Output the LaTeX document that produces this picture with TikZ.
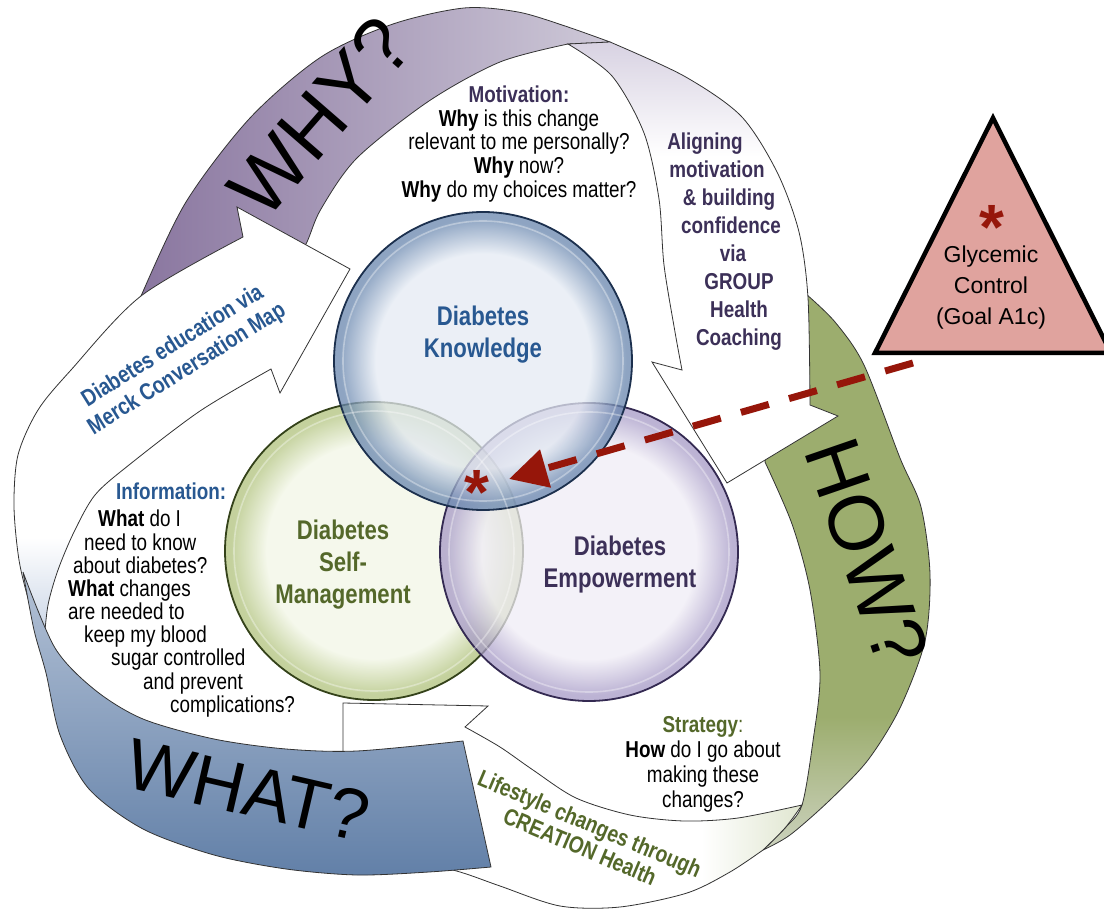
\documentclass[tikz,border=0pt]{standalone}
\usepackage{fontspec}
\setmainfont[FakeStretch=0.82]{Liberation Sans}
\newfontfamily\fullwidth{Liberation Sans}
\usetikzlibrary{arrows.meta}

% text colours
\definecolor{knowtext}{RGB}{40,88,145}
\definecolor{powertext}{RGB}{60,48,88}
\definecolor{selftext}{RGB}{84,104,42}
\definecolor{goalred}{RGB}{150,22,10}
\definecolor{goalfill}{RGB}{224,163,158}
% ribbons
\definecolor{whyL}{RGB}{136,116,158}
\definecolor{whyR}{RGB}{206,201,216}
\definecolor{howT}{RGB}{156,173,110}
\definecolor{howB}{RGB}{204,210,190}
\definecolor{whatT}{RGB}{180,194,214}
\definecolor{whatB}{RGB}{98,128,168}
\definecolor{whytint}{RGB}{216,210,226}
\definecolor{howtint}{RGB}{224,230,208}
\definecolor{whattint}{RGB}{198,210,228}
% bubbles
\definecolor{knowin}{RGB}{228,234,243}
\definecolor{knowrim}{RGB}{104,134,174}
\definecolor{knowedge}{RGB}{28,48,78}
\definecolor{selfin}{RGB}{242,246,230}
\definecolor{selfrim}{RGB}{176,194,124}
\definecolor{selfedge}{RGB}{52,66,26}
\definecolor{powerin}{RGB}{239,236,245}
\definecolor{powerrim}{RGB}{166,154,198}
\definecolor{poweredge}{RGB}{52,42,82}

\pgfdeclareradialshading{knowball}{\pgfpoint{0bp}{0bp}}{color(0bp)=(knowin); color(18bp)=(knowin); color(24bp)=(knowrim); color(50bp)=(knowrim)}
\pgfdeclareradialshading{selfball}{\pgfpoint{0bp}{0bp}}{color(0bp)=(selfin); color(18bp)=(selfin); color(24bp)=(selfrim); color(50bp)=(selfrim)}
\pgfdeclareradialshading{powerball}{\pgfpoint{0bp}{0bp}}{color(0bp)=(powerin); color(18bp)=(powerin); color(24bp)=(powerrim); color(50bp)=(powerrim)}
% coloured HOW? side, paling only at its twisted end
\pgfdeclareverticalshading{howside}{100bp}{color(0bp)=(howB); color(25bp)=(howB); color(37bp)=(howT); color(100bp)=(howT)}
% white faces of the ribbons, tinted towards the twist
\pgfdeclareverticalshading{alignwash}{100bp}{color(0bp)=(white); color(62bp)=(white); color(75bp)=(whytint); color(100bp)=(whytint)}
\pgfdeclarehorizontalshading{lifewash}{100bp}{color(0bp)=(white); color(64bp)=(white); color(75bp)=(howtint); color(100bp)=(howtint)}
\pgfdeclareverticalshading{eduwash}{100bp}{color(0bp)=(whattint); color(25bp)=(whattint); color(37bp)=(white); color(100bp)=(white)}

\tikzset{
  ribbon/.style={draw=black!80, line width=0.8pt},
  face/.style={ribbon, shade},
  bubble/.style={circle, minimum size=298pt, inner sep=0pt, shade, fill opacity=0.75, draw opacity=1, line width=1.8pt},
  gloss/.style={white, line width=1.6pt, opacity=0.35},
  bigword/.style={font=\fullwidth\fontsize{78}{78}\selectfont, inner sep=0pt},
  say/.style={font=\fontsize{23}{23.7}\selectfont, align=center, inner sep=0pt},
  sayline/.style={font=\fontsize{23}{23}\selectfont, anchor=base west, inner sep=0pt},
  circlabel/.style={font=\bfseries\fontsize{27}{32}\selectfont, align=center, inner sep=0pt},
  bandnote/.style={font=\bfseries\fontsize{23.5}{27}\selectfont, align=center, inner sep=0pt},
  aligntext/.style={font=\bfseries\fontsize{23}{23}\selectfont, anchor=base, inner sep=0pt, text=powertext},
  astx/.style={font=\fullwidth\bfseries\fontsize{64}{64}\selectfont, text=goalred, inner sep=0pt},
  goaldash/.style={goalred, line width=7pt, dash pattern=on 29pt off 21pt, -{Triangle[length=38pt,width=38pt]}}
}

\begin{document}
\begin{tikzpicture}[x=1pt, y=-1pt]
\useasboundingbox (0,0) rectangle (1104,909);

% HOW? ribbon, coloured side (starts under the coaching arrow)
\shade[ribbon, shading=howside]
  plot[smooth] coordinates {(806,294) (835,322) (864,365) (900,458) (921,507) (930,574) (925,641) (900,708) (868,760) (830,800) (790,835) (763,850)}
  -- plot[smooth] coordinates {(763,850) (785,828) (802,805) (813,741) (820,674) (810,590) (792,524) (765,462)}
  -- (775,400) -- cycle;

% WHY? ribbon, coloured side (starts under the education arrow)
\shade[ribbon, left color=whyL, right color=whyR]
  plot[smooth] coordinates {(126,336) (141,296) (186,202) (250,118) (321,57) (393,24) (464,8) (518,12) (565,26) (610,42)}
  -- plot[smooth] coordinates {(568,44) (500,62) (429,101) (357,158) (321,209) (307,242) (290,275)}
  -- (200,330) -- cycle;

% white side after the HOW? twist
\shade[face, shading=lifewash]
  (343,703) -- (488,706) -- (465,727)
  -- plot[smooth] coordinates {(465,727) (500,747) (533,770) (576,798) (630,815) (684,821) (738,818) (802,805)}
  -- plot[smooth] coordinates {(802,805) (785,828) (763,850)}
  -- plot[smooth] coordinates {(763,850) (730,872) (687,893) (620,907) (560,906) (500,886) (460,872) (400,856)}
  -- (343,852) -- cycle;

% white side after the WHAT? twist
\shade[face, shading=eduwash]
  plot[smooth] coordinates {(44,642) (30,605) (19,560) (14,506) (18,455) (38,410) (71,370) (141,296) (243,237)}
  -- (237,207) -- (350,269) -- (280,393) -- (271,369)
  -- plot[smooth] coordinates {(271,369) (200,411) (129,465) (95,495) (74,532) (58,570) (48,605) (44,642)} -- cycle;

% WHAT? ribbon, coloured side
\shade[ribbon, top color=whatT, bottom color=whatB]
  plot[smooth] coordinates {(23,572) (34,630) (46,673) (60,735) (89,789) (143,829) (214,855) (286,869) (357,875) (429,872) (491,867)}
  -- (463,741)
  -- plot[smooth] coordinates {(463,741) (357,751) (286,749) (214,739) (143,719) (95,690) (55,648) (23,572)} -- cycle;

% white side after the WHY? twist
\shade[face, shading=alignwash]
  (568,44) -- plot[smooth] coordinates {(610,42) (684,76) (741,116) (777,172) (799,232) (808,298) (810,405)}
  -- (838,416) -- (727,483) -- (652,362) -- (682,370)
  -- plot[smooth] coordinates {(682,370) (675,332) (664,265) (659,199) (644,133) (612,76) (568,44)} -- cycle;

% the three bubbles
\node[bubble, shading=selfball, draw=selfedge] (self) at (374,551) {};
\node[bubble, shading=powerball, draw=poweredge] (power) at (589,552) {};
\node[bubble, shading=knowball, draw=knowedge] (know) at (483,361) {};
\foreach \b in {self,power,know}
  \draw[gloss] (\b) circle[radius=140];

\node[circlabel, text=knowtext] (know-lbl) at (483,335) {Diabetes\\Knowledge};
\node[circlabel, text=selftext] (self-lbl) at (343,565) {Diabetes\\Self-\\Management};
\node[circlabel, text=powertext] (power-lbl) at (620,565) {Diabetes\\Empowerment};

% ribbon words
\node[bigword, rotate=49, font=\fullwidth\fontsize{80}{80}\selectfont] (why) at (320,117) {WHY?};
\node[bigword, rotate=-71] (how) at (867,552) {HOW?};
\node[bigword, rotate=-13, font=\fullwidth\fontsize{72}{72}\selectfont] (what) at (248,790) {WHAT?};

% questions
\node[say] (motiv) at (519,144) {\textcolor{powertext}{\bfseries Motivation:}\\
  \textbf{Why} is this change\\relevant to me personally?\\
  \textbf{Why} now?\\\textbf{Why} do my choices matter?};

\node[sayline, text=knowtext, font=\bfseries\fontsize{23}{23}\selectfont] (info) at (116,499) {Information:};
\foreach \x/\y/\t [count=\i] in {98/526/{\textbf{What} do I}, 84/550/need to know,
    73/573/about diabetes?, 68/596/{\textbf{What} changes}, 68/619/are needed to,
    84/642/keep my blood, 111/665/sugar controlled, 143/689/and prevent,
    170/712/complications?}
  \node[sayline] (info-\i) at (\x,\y) {\t};

\node[say, font=\fontsize{23}{25}\selectfont] (strat) at (703,764) {\textcolor{selftext}{\textbf{Strategy}:}\\
  \textbf{How} do I go about\\making these\\changes?};

% arrow captions
\foreach \x/\y/\t [count=\i] in {705/150/Aligning, 717/178/motivation, 729/206/\& building,
    731/234/confidence, 733/262/via, 739/290/GROUP, 739/318/Health, 739/346/Coaching}
  \node[aligntext] (align-\i) at (\x,\y) {\t};

\node[bandnote, text=knowtext, rotate=32] (edu) at (180,358) {Diabetes education via\\Merck Conversation Map};
\node[bandnote, text=selftext, rotate=-23, font=\bfseries\fontsize{23.5}{25}\selectfont] (life) at (585,835) {Lifestyle changes through\\CREATION Health};

% goal triangle
\coordinate (goal-top) at (993,118);
\coordinate (goal-left) at (875,353);
\coordinate (goal-right) at (1111,353);
\filldraw[fill=goalfill, draw=black, line width=4.5pt] (goal-top) -- (goal-left) -- (goal-right) -- cycle;
\node[astx] (goal-star) at (992,227) {*};
\node[font=\fullwidth\fontsize{23}{31}\selectfont, align=center, inner sep=0pt] (goal) at (991,288) {Glycemic\\Control\\(Goal A1c)};

% goal points at the overlap of all three
\coordinate (goal-foot) at (913,363);
\coordinate (star-tip) at (509,479);
\draw[goaldash] (goal-foot) -- (star-tip);
\node[astx] (star) at (477,492) {*};

\end{tikzpicture}
\end{document}
